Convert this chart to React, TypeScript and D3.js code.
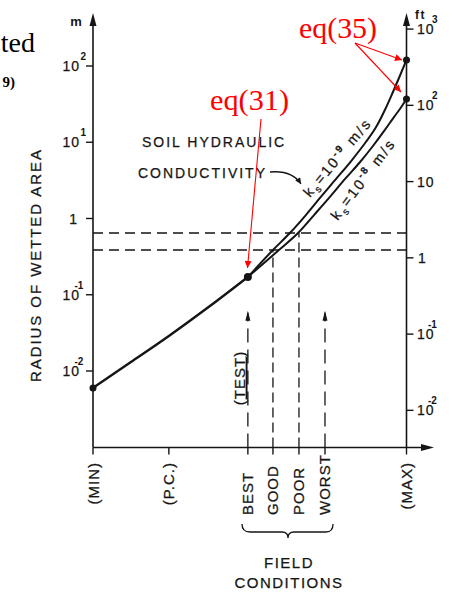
import React from "react";
import * as d3 from "d3";

// ---- data ----
const categories = ["(MIN)", "(P.C.)", "BEST", "GOOD", "POOR", "WORST", "(MAX)"];
const categoryPos = [0, 2.42, 4.94, 5.74, 6.57, 7.4, 10];
const fieldCats = ["BEST", "GOOD", "POOR", "WORST"];

// common part of the curve (m)
const commonX = [0, 1.21, 2.42, 3.73, 4.94];
const commonR = [0.006, 0.0131, 0.0288, 0.0711, 0.171];

// ks = 1e-9 m/s branch
const upperX = [4.94, 5.74, 6.28, 6.79, 7.24, 7.78, 8.26, 8.68, 9.03, 9.31, 9.54, 9.76, 10];
const upperR = [0.171, 0.386, 0.645, 1.11, 1.86, 3.4, 5.85, 9.77, 15.8, 26.5, 42.9, 69.6, 120];

// ks = 1e-8 m/s branch
const lowerX = [4.94, 5.93, 6.54, 7.05, 7.53, 8.04, 8.52, 8.93, 9.31, 9.6, 9.79, 10];
const lowerR = [0.171, 0.386, 0.645, 1.11, 1.86, 3.3, 5.51, 8.93, 14.5, 21.4, 27.3, 36.9];

// dashed thresholds: GOOD -> 0.386 m, POOR -> 0.645 m
const thresholdCats = ["GOOD", "POOR"];
const thresholdR = [0.386, 0.645];

const leftTickExp = [2, 1, 0, -1, -2];
const rightTickExp = [3, 2, 1, 0, -1, -2];
const FT = 0.3048;

// curve label anchors (x position, radius in m)
const upperLabel = { x: 6.92, r: 1.86, exp: "-9" };
const lowerLabel = { x: 7.81, r: 0.93, exp: "-8" };

const FONT = "'Liberation Sans', Arial, Helvetica, sans-serif";
const SERIF = "'Liberation Serif', 'Times New Roman', serif";
const INK = "#151515";

export default function App() {
  const x = d3.scaleLinear().domain([0, 10]).range([93, 406.5]);
  const y = d3.scaleLog().domain([0.01, 100]).range([371, 66]);
  const yFt = (ft: number) => y(ft * FT);

  const line = d3
    .line<[number, number]>()
    .x((d) => x(d[0]))
    .y((d) => y(d[1]))
    .curve(d3.curveMonotoneX);

  const common = commonX.map((v, i) => [v, commonR[i]] as [number, number]);
  const upper = upperX.map((v, i) => [v, upperR[i]] as [number, number]);
  const lower = lowerX.map((v, i) => [v, lowerR[i]] as [number, number]);

  const axisX0 = x(0);
  const axisX1 = x(10);
  const axisY = 447.5;
  const topY = 13;

  const catX = (c: string) => x(categoryPos[categories.indexOf(c)]);
  const arrowTopR = 0.058;

  const txt = { fill: INK, stroke: INK, strokeWidth: 0.25 } as const;

  const curveLabel = (lab: { x: number; r: number; exp: string }, angle: number) => (
    <text
      transform={`translate(${x(lab.x)},${y(lab.r)}) rotate(${angle})`}
      fontSize={14.5}
      letterSpacing={2.2}
      {...txt}
    >
      k<tspan dy={4} fontSize={10}>s</tspan>
      <tspan dy={-4}>=10</tspan>
      <tspan dy={-6} fontSize={10} fontWeight="bold">{lab.exp}</tspan>
      <tspan dy={6}> m/s</tspan>
    </text>
  );

  return (
    <svg
      width={458}
      height={592}
      style={{ position: "absolute", left: 0, top: 0, background: "#fff" }}
      fontFamily={FONT}
    >
      <defs>
        <marker id="redHead" viewBox="0 0 10 10" refX="10" refY="5" markerWidth="10" markerHeight="7" orient="auto" markerUnits="userSpaceOnUse">
          <path d="M0,0 L10,5 L0,10 z" fill="#ff0000" />
        </marker>
        <marker id="blkHead" viewBox="0 0 10 10" refX="10" refY="5" markerWidth="8" markerHeight="6" orient="auto" markerUnits="userSpaceOnUse">
          <path d="M0,0 L10,5 L0,10 z" fill={INK} />
        </marker>
      </defs>

      {/* cut-off text at top-left */}
      <text x={35} y={52} textAnchor="end" fontFamily={SERIF} fontSize={28} fill="#000">ted</text>
      <text x={15} y={87} textAnchor="end" fontFamily={SERIF} fontSize={15} fontWeight="bold" fill="#000">9)</text>

      {/* axes */}
      <line x1={axisX0} y1={axisY} x2={axisX0} y2={topY + 8} stroke={INK} strokeWidth={1.6} />
      <path d={`M${axisX0},${topY} L${axisX0 - 3.5},${topY + 13} L${axisX0 + 3.5},${topY + 13} Z`} fill={INK} />
      <line x1={axisX1} y1={axisY} x2={axisX1} y2={topY + 8} stroke={INK} strokeWidth={1.6} />
      <path d={`M${axisX1},${topY} L${axisX1 - 3.5},${topY + 13} L${axisX1 + 3.5},${topY + 13} Z`} fill={INK} />
      <line x1={axisX0} y1={axisY} x2={426} y2={axisY} stroke={INK} strokeWidth={1.6} />
      <path d={`M434,${axisY} L421,${axisY - 3.5} L421,${axisY + 3.5} Z`} fill={INK} />

      {/* unit labels */}
      <text x={76} y={26} textAnchor="middle" fontSize={13} fontWeight="bold" fill={INK}>m</text>
      <text x={415} y={19} fontSize={12} fontWeight="bold" letterSpacing={1.5} fill={INK}>ft</text>

      {/* left ticks (m) */}
      {leftTickExp.map((e) => {
        const ty = y(Math.pow(10, e));
        return (
          <g key={"l" + e}>
            <line x1={axisX0 - 7} x2={axisX0} y1={ty} y2={ty} stroke={INK} strokeWidth={1.4} />
            {e === 0 ? (
              <text x={77} y={ty + 5} textAnchor="end" fontSize={14} {...txt}>1</text>
            ) : (
              <>
                <text x={80} y={ty + 5} textAnchor="end" fontSize={14} letterSpacing={1} {...txt}>10</text>
                <text x={e > 0 ? 80.5 : 74.5} y={ty - 6} fontSize={10} fontWeight="bold" fill={INK}>{String(e)}</text>
              </>
            )}
          </g>
        );
      })}

      {/* right ticks (ft) */}
      {rightTickExp.map((e) => {
        const ty = yFt(Math.pow(10, e));
        return (
          <g key={"r" + e}>
            <line x1={axisX1} x2={axisX1 + 7} y1={ty} y2={ty} stroke={INK} strokeWidth={1.4} />
            {e === 0 ? (
              <text x={418} y={ty + 5} fontSize={14} {...txt}>1</text>
            ) : e === 1 ? (
              <text x={417} y={ty + 5} fontSize={14} letterSpacing={1} {...txt}>10</text>
            ) : (
              <>
                <text x={417} y={ty + 5} fontSize={14} letterSpacing={1} {...txt}>10</text>
                <text x={e > 0 ? 432 : 428} y={ty - 6} fontSize={10} fontWeight="bold" fill={INK}>{String(e)}</text>
              </>
            )}
          </g>
        );
      })}

      {/* y-axis title */}
      <text transform="translate(41,266) rotate(-90)" textAnchor="middle" fontSize={15} textLength={232} lengthAdjust="spacing" {...txt}>
        RADIUS OF WETTED AREA
      </text>

      {/* x ticks and category labels */}
      {categories.map((c, i) => {
        const cx = x(categoryPos[i]);
        const field = fieldCats.includes(c);
        return (
          <g key={c}>
            <line x1={cx} x2={cx} y1={axisY} y2={axisY + 7} stroke={INK} strokeWidth={1.4} />
            <text
              transform={`translate(${cx},${field ? 515 : 462}) rotate(-90)`}
              textAnchor={field ? "start" : "end"}
              dominantBaseline="central"
              fontSize={15}
              letterSpacing={1}
              {...txt}
            >
              {c}
            </text>
          </g>
        );
      })}

      {/* brace + field conditions */}
      <path
        d="M242,524 Q242,532 250,532 L282,532 Q288,532 288,538 Q288,532 294,532 L326,532 Q333,532 333,524"
        fill="none"
        stroke={INK}
        strokeWidth={1.3}
      />
      <text x={289} y={568} textAnchor="middle" fontSize={15} letterSpacing={1.5} {...txt}>FIELD</text>
      <text x={289} y={588} textAnchor="middle" fontSize={15} letterSpacing={1.5} {...txt}>CONDITIONS</text>

      {/* horizontal dashed thresholds */}
      {thresholdR.map((r) => (
        <line key={"h" + r} x1={axisX0} x2={axisX1} y1={y(r)} y2={y(r)} stroke={INK} strokeWidth={1.3} strokeDasharray="10,6" />
      ))}
      {/* vertical dashed thresholds */}
      {thresholdCats.map((c, i) => (
        <line key={"v" + c} x1={catX(c)} x2={catX(c)} y1={axisY} y2={y(thresholdR[i])} stroke={INK} strokeWidth={1.3} strokeDasharray="10,5" />
      ))}
      {/* test / worst arrows */}
      {["BEST", "WORST"].map((c) => (
        <line key={"a" + c} x1={catX(c)} x2={catX(c)} y1={axisY} y2={y(arrowTopR)} stroke={INK} strokeWidth={1.3} strokeDasharray="14,7" />
      ))}
      {["BEST", "WORST"].map((c) => {
        const cx = catX(c);
        const ty = y(arrowTopR) - 2;
        return <path key={"ah" + c} d={`M${cx},${ty} L${cx - 2.5},${ty + 10} L${cx + 2.5},${ty + 10} Z`} fill={INK} />;
      })}
      <text transform={`translate(${catX("BEST") - 3},378) rotate(-90)`} textAnchor="middle" fontSize={15} letterSpacing={1} {...txt}>
        (<tspan textDecoration="underline">TEST</tspan>)
      </text>

      {/* curves */}
      <path d={line(common) || ""} fill="none" stroke={INK} strokeWidth={2.4} />
      <path d={line(upper) || ""} fill="none" stroke={INK} strokeWidth={2} />
      <path d={line(lower) || ""} fill="none" stroke={INK} strokeWidth={2} />

      {/* dots */}
      <circle cx={x(commonX[0])} cy={y(commonR[0])} r={3.5} fill={INK} />
      <circle cx={x(commonX[commonX.length - 1])} cy={y(commonR[commonR.length - 1])} r={4} fill={INK} />
      <circle cx={x(upperX[upperX.length - 1])} cy={y(upperR[upperR.length - 1])} r={3.5} fill={INK} />
      <circle cx={x(lowerX[lowerX.length - 1])} cy={y(lowerR[lowerR.length - 1])} r={3.5} fill={INK} />

      {/* curve labels */}
      {curveLabel(upperLabel, -50)}
      {curveLabel(lowerLabel, -53)}

      {/* soil hydraulic conductivity note */}
      <text x={142} y={147} fontSize={14} letterSpacing={2} {...txt}>SOIL HYDRAULIC</text>
      <text x={138} y={178} fontSize={14} letterSpacing={2} {...txt}>CONDUCTIVITY</text>
      <path d="M270,172 Q292,170 301,184" fill="none" stroke={INK} strokeWidth={1.3} markerEnd="url(#blkHead)" />

      {/* red annotations */}
      <text x={299} y={38} fontFamily={SERIF} fontSize={29} textLength={78} lengthAdjust="spacingAndGlyphs" fill="#ff0000">eq(35)</text>
      <text x={210} y={110} fontFamily={SERIF} fontSize={29} textLength={79} lengthAdjust="spacingAndGlyphs" fill="#ff0000">eq(31)</text>
      <line x1={355} y1={43} x2={402} y2={60} stroke="#ff0000" strokeWidth={1.1} markerEnd="url(#redHead)" />
      <line x1={355} y1={43} x2={401} y2={92} stroke="#ff0000" strokeWidth={1.1} markerEnd="url(#redHead)" />
      <line x1={261} y1={119} x2={247.5} y2={268} stroke="#ff0000" strokeWidth={1.1} markerEnd="url(#redHead)" />
    </svg>
  );
}
